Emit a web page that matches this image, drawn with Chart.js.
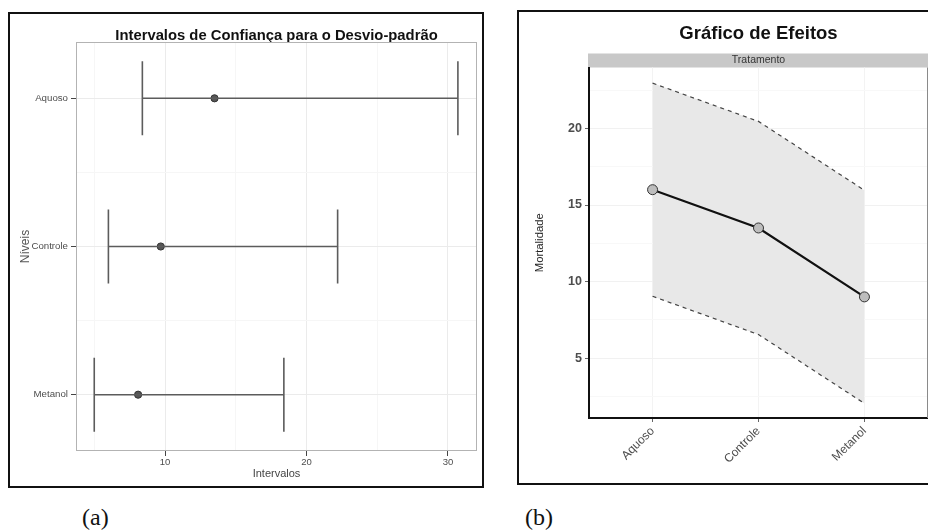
<!DOCTYPE html>
<html>
<head>
<meta charset="utf-8">
<script src="https://cdn.jsdelivr.net/npm/chart.js@4.4.1/dist/chart.umd.min.js"></script>
<style>
	body {margin:0; background:#fff; width:928px; height:530px; overflow:hidden; position:relative; font-family:'Liberation Sans', Arial, sans-serif;}
	.frame {position:absolute; border:2px solid #111;}
	#frame-a {left:8px; top:12px; width:472px; height:472px;}
	#frame-b {left:517px; top:10px; width:420px; height:471px;}
	canvas {display:block;}
	.caption {position:absolute; top:505px; font-family:'Liberation Serif', 'Times New Roman', serif; font-size:24px; line-height:24px; color:#111;}
</style>
</head>
<body>
<div class='frame' id='frame-a'><canvas id='chart-a' width='472' height='472'></canvas></div>
<div class='frame' id='frame-b'><canvas id='chart-b' width='415' height='471'></canvas></div>
<div class='caption' style='left:82px'>(a)</div>
<div class='caption' style='left:525px'>(b)</div>
<script>
// (a) intervalos de confianca para o desvio-padrao
let niveis = ['Aquoso', 'Controle', 'Metanol'];
let desvio_est = [13.5, 9.7, 8.1];
let desvio_inf = [8.4, 6.0, 5.0];
let desvio_sup = [30.7, 22.2, 18.4];
let x_ticks_a = [5, 10, 15, 20, 25, 30];
let y_ticks_a = [1, 1.5, 2, 2.5, 3];

// (b) grafico de efeitos
let tratamentos = ['Aquoso', 'Controle', 'Metanol'];
let mortalidade = [16.0, 13.5, 9.0];
let mort_inf = [9.04, 6.54, 2.04];
let mort_sup = [22.96, 20.46, 15.96];
let y_ticks_b = [2.5, 5, 7.5, 10, 12.5, 15, 17.5, 20, 22.5];
let x_ticks_b = [1, 2, 3];

let fam = "'Liberation Sans', Arial, sans-serif";
Chart.defaults.font.family = fam;

let cap = 0.25; // meia altura das barras de erro
let barra_pts = [];
for (var i = 0; i < niveis.length; i++) {
	let y = i + 1;
	barra_pts.push({x: desvio_inf[i], y: y - cap}, {x: desvio_inf[i], y: y + cap}, {x: desvio_inf[i], y: null});
	barra_pts.push({x: desvio_inf[i], y: y}, {x: desvio_sup[i], y: y}, {x: desvio_sup[i], y: null});
	barra_pts.push({x: desvio_sup[i], y: y - cap}, {x: desvio_sup[i], y: y + cap}, {x: desvio_sup[i], y: null});
};
let est_pts = desvio_est.map((v, i) => ({x: v, y: i + 1}));

let isMajor = function(v, step) {
	return Math.abs(v / step - Math.round(v / step)) < 1e-6;
};

let painelA = {
	id: 'painelA',
	beforeDatasetsDraw: function(chart) {
		let a = chart.chartArea;
		let c = chart.ctx;
		c.save();
		c.strokeStyle = '#b3b3b3';
		c.lineWidth = 1;
		c.strokeRect(Math.round(a.left) + 0.5, Math.round(a.top) + 0.5, Math.round(a.right - a.left) - 1, Math.round(a.bottom - a.top) - 1);
		c.restore();
	}
};

new Chart(document.getElementById('chart-a'), {
	type: 'scatter',
	data: {
		datasets: [
			{data: barra_pts, showLine: true, borderColor: '#5c5c5c', borderWidth: 1.6, pointRadius: 0, pointHoverRadius: 0},
			{data: est_pts, pointRadius: 3.6, backgroundColor: '#555555', borderColor: '#333333', borderWidth: 1}
		]
	},
	options: {
		responsive: false,
		animation: false,
		events: [],
		layout: {padding: {top: 0, right: 5, left: 0, bottom: 0}},
		plugins: {
			legend: {display: false},
			tooltip: {enabled: false},
			title: {
				display: true,
				fullSize: false,
				text: 'Intervalos de Confiança para o Desvio-padrão',
				color: '#111',
				font: {size: 14.8, weight: 'bold', lineHeight: 1},
				padding: {top: 14.5, bottom: -1.3}
			}
		},
		scales: {
			x: {
				type: 'linear',
				min: 3.71,
				max: 32.05,
				afterBuildTicks: function(s) { s.ticks = x_ticks_a.map(v => ({value: v})); },
				afterFit: function(s) { s.height = 35; },
				border: {display: false},
				grid: {
					color: c => (c.tick && isMajor(c.tick.value, 10)) ? '#ebebeb' : '#f6f6f6',
					tickColor: c => (c.tick && isMajor(c.tick.value, 10)) ? '#444' : 'rgba(0,0,0,0)',
					tickLength: 5
				},
				ticks: {
					autoSkip: false,
					maxRotation: 0,
					padding: 1,
					color: '#4d4d4d',
					font: {size: 9.5},
					callback: v => isMajor(v, 10) ? v : ''
				},
				title: {display: true, text: 'Intervalos', color: '#444', font: {size: 11}, padding: {top: 0, bottom: 5.4}}
			},
			y: {
				type: 'linear',
				reverse: true,
				min: 0.62,
				max: 3.38,
				afterBuildTicks: function(s) { s.ticks = y_ticks_a.map(v => ({value: v})); },
				afterFit: function(s) { s.width = 66; },
				border: {display: false},
				grid: {
					color: c => (c.tick && isMajor(c.tick.value, 1)) ? '#ebebeb' : '#f6f6f6',
					tickColor: c => (c.tick && isMajor(c.tick.value, 1)) ? '#444' : 'rgba(0,0,0,0)',
					tickLength: 5
				},
				ticks: {
					autoSkip: false,
					padding: 3,
					color: '#4d4d4d',
					font: {size: 9.7},
					callback: v => isMajor(v, 1) ? niveis[Math.round(v) - 1] : ''
				},
				title: {display: true, text: 'Níveis', color: '#555', font: {size: 12}, padding: {top: 8.4, bottom: 0}}
			}
		}
	},
	plugins: [painelA]
});

// (b)
let media_pts = mortalidade.map((v, i) => ({x: i + 1, y: v}));
let inf_pts = mort_inf.map((v, i) => ({x: i + 1, y: v}));
let sup_pts = mort_sup.map((v, i) => ({x: i + 1, y: v}));

let painelB = {
	id: 'painelB',
	beforeDraw: function(chart) {
		// faixa cinza do facet, por baixo do subtitulo
		let a = chart.chartArea;
		let c = chart.ctx;
		c.save();
		c.fillStyle = '#c8c8c8';
		c.fillRect(a.left - 1, a.top - 14, a.right - a.left + 1, 14);
		c.restore();
	},
	beforeDatasetsDraw: function(chart) {
		let a = chart.chartArea;
		let c = chart.ctx;
		c.save();
		c.strokeStyle = '#8a8a8a';
		c.lineWidth = 1;
		c.beginPath();
		c.moveTo(Math.round(a.right) - 0.5, a.top);
		c.lineTo(Math.round(a.right) - 0.5, a.bottom);
		c.stroke();
		c.restore();
	}
};

new Chart(document.getElementById('chart-b'), {
	type: 'scatter',
	data: {
		datasets: [
			{data: inf_pts, order: 1, showLine: true, borderColor: '#444', borderWidth: 1.2, borderDash: [4, 4], pointRadius: 0, fill: false},
			{data: sup_pts, order: 2, showLine: true, borderColor: '#444', borderWidth: 1.2, borderDash: [4, 4], pointRadius: 0, fill: '-1', backgroundColor: '#e8e8e8'},
			{data: media_pts, order: 0, showLine: true, borderColor: '#111', borderWidth: 2.2, pointRadius: 5, backgroundColor: '#bdbdbd', pointBorderColor: '#333', pointBorderWidth: 1}
		]
	},
	options: {
		responsive: false,
		animation: false,
		events: [],
		layout: {padding: {top: 0, right: 1, left: 0, bottom: 0}},
		plugins: {
			legend: {display: false},
			tooltip: {enabled: false},
			title: {
				display: true,
				fullSize: false,
				text: 'Gráfico de Efeitos',
				color: '#111',
				font: {size: 18.5, weight: 'bold', lineHeight: 1},
				padding: {top: 13, bottom: 10}
			},
			subtitle: {
				display: true,
				fullSize: false,
				text: 'Tratamento',
				color: '#333',
				font: {size: 10.5, lineHeight: '14px'},
				padding: 0
			}
		},
		scales: {
			x: {
				type: 'linear',
				min: 0.4,
				max: 3.6,
				afterBuildTicks: function(s) { s.ticks = x_ticks_b.map(v => ({value: v})); },
				afterFit: function(s) { s.height = 65; },
				border: {display: true, color: '#111', width: 2},
				grid: {color: '#f3f3f3', tickColor: '#666', tickLength: 4},
				ticks: {
					autoSkip: false,
					minRotation: 45,
					maxRotation: 45,
					padding: 2,
					color: '#4d4d4d',
					font: {size: 12},
					callback: v => tratamentos[Math.round(v) - 1]
				}
			},
			y: {
				type: 'linear',
				min: 1.09,
				max: 23.98,
				afterBuildTicks: function(s) { s.ticks = y_ticks_b.map(v => ({value: v})); },
				afterFit: function(s) { s.width = 70; },
				border: {display: true, color: '#111', width: 2},
				grid: {
					color: c => (c.tick && isMajor(c.tick.value, 5)) ? '#f1f1f1' : '#f8f8f8',
					tickColor: c => (c.tick && isMajor(c.tick.value, 5)) ? '#666' : 'rgba(0,0,0,0)',
					tickLength: 4
				},
				ticks: {
					autoSkip: false,
					padding: 3,
					color: '#4d4d4d',
					font: {size: 12.5, weight: 'bold'},
					callback: v => isMajor(v, 5) ? v : ''
				},
				title: {display: true, text: 'Mortalidade', color: '#222', font: {size: 11.3}, padding: {top: 14.2, bottom: 0}}
			}
		}
	},
	plugins: [painelB]
});
</script>
</body>
</html>
